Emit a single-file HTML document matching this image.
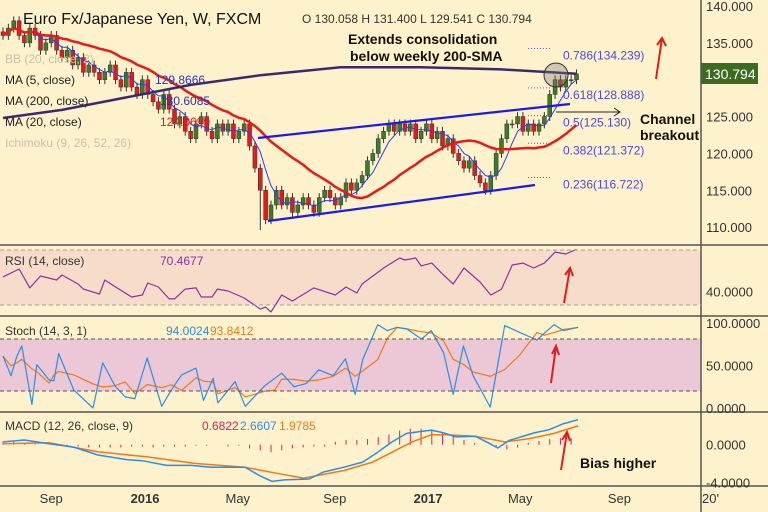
<!DOCTYPE html>
<html><head><meta charset="utf-8"><style>
html,body{margin:0;padding:0;background:#fdf2cc;}
svg{display:block;font-family:"Liberation Sans",sans-serif;}
</style></head><body>
<svg id="c" width="768" height="512" viewBox="0 0 768 512">
<rect x="0" y="0" width="768" height="512" fill="#fdf2cc"/>
<rect x="0" y="250" width="701" height="55" fill="#f6dcc9"/>
<rect x="0" y="339" width="701" height="52" fill="#ecc8d6"/>
<g id="grid"></g><g id="marks"></g>
<g stroke="#555" stroke-width="1.5">
<line x1="0" y1="245" x2="768" y2="245"/><line x1="0" y1="316" x2="768" y2="316"/><line x1="0" y1="412" x2="768" y2="412"/><line x1="0" y1="486" x2="768" y2="486"/><line x1="701" y1="0" x2="701" y2="512"/></g>
<g stroke="#a99" stroke-dasharray="4,3"><line x1="0" y1="250" x2="701" y2="250"/><line x1="0" y1="305" x2="701" y2="305"/></g>
<g stroke="#555" stroke-dasharray="4,3"><line x1="0" y1="339" x2="701" y2="339"/><line x1="0" y1="391" x2="701" y2="391"/></g>
<g id="axes" font-size="13" fill="#333"></g>
<text x="23" y="24" font-size="16" fill="#111">Euro Fx/Japanese Yen, W, FXCM</text>
<text x="302" y="23" font-size="12" fill="#333">O 130.058  H 131.400  L 129.541  C 130.794</text>
<g font-size="12" fill="#222">
<text x="5" y="63" fill="#c9c0a8">BB (20, close, 2)</text>
<text x="5" y="84">MA (5, close)</text>
<text x="155" y="84" fill="#2233dd">129.8666</text>
<text x="5" y="105">MA (200, close)</text>
<text x="160" y="105" fill="#333399">130.6085</text>
<text x="5" y="126">MA (20, close)</text>
<text x="160" y="126" fill="#e31b1b">124.0699</text>
<text x="5" y="147" fill="#c9c0a8">Ichimoku (9, 26, 52, 26)</text>
<text x="5" y="265" fill="#333">RSI (14, close)</text>
<text x="160" y="265" fill="#8833aa">70.4677</text>
<text x="5" y="335" fill="#333">Stoch (14, 3, 1)</text>
<text x="166" y="335" fill="#2a8ee8">94.0024</text><text x="210" y="335" fill="#f07a1a">93.8412</text>
<text x="5" y="430" fill="#333">MACD (12, 26, close, 9)</text>
<text x="202" y="430" fill="#e0205a">0.6822</text><text x="240" y="430" fill="#2a8ee8">2.6607</text><text x="279" y="430" fill="#f07a1a">1.9785</text>
</g>
<g font-size="14" font-weight="bold" fill="#111">
<text x="348" y="44">Extends consolidation</text>
<text x="350" y="61">below weekly 200-SMA</text>
<text x="640" y="124">Channel</text>
<text x="640" y="140">breakout</text>
<text x="580" y="468">Bias higher</text>
</g>
<g stroke="#e31b1b" stroke-width="2" fill="none">
<path d="M656,79 L662,38 M657,45 L662,38 L666,46"/>
<path d="M564,303 L570,268 M565,275 L570,268 L573,276"/>
<path d="M551,383 L556,346 M552,354 L556,346 L559,355"/>
<path d="M561,470 L567,432 M562,440 L567,432 L570,441"/>
</g>
<path d="M556,112 L620,112 M614,108 L620,112 L614,116" stroke="#222" stroke-width="1" fill="none"/>
<script>
const closes=[136,137,138,136,135,137,136,134,135,136,134,133,134,132,133,131,132,131,130,131,132,130,129,131,129,128,130,128,127,126,128,126,124,125,123,122,124,125,123,122,124,123,124,122,123,124,121,118,115,111,113,115,113,114,112,113,114,113,112,114,115,114,113,114,116,115,116,117,119,120,122,123,124,123,124,123,124,122,123,124,122,123,121,122,120,119,118,119,117,116,115,117,120,122,124,124,125,123,124,123,124,125,128,130,129,130,130,130.794];
const ma200Weeks=[0,11,23,35,48,63,78,93,107];
const ma200Vals=[124.8,125.9,127.6,129.3,130.6,131.7,131.7,131.4,130.8];
const rsiWeeks=[0,3,5,7,10,11,14,15,18,19,21,24,26,27,29,31,32,34,36,37,39,40,42,45,48,49,50,52,54,58,62,64,66,67,71,74,75,77,78,80,82,84,86,89,91,93,95,97,99,101,103,105,107];
const rsiVals=[50.4,56.2,42.4,51.1,48.2,51.8,45.3,41.6,38,48.2,43.1,35.8,37.3,46,43.1,34.4,34.4,41.6,42.4,35.8,35.8,41.6,40.2,35.1,27.1,28.5,24.9,37.3,32.9,42.4,37.3,43.1,38.7,45.3,56.9,64.2,62.7,64.2,58.4,60.5,52.5,45.3,56.9,46.7,37.3,41.6,59.1,60.5,56.9,60.5,68.5,67.1,70.5];
const stochWeeks=[0,1.5,2.6,3.5,5.4,6.3,8.6,9.5,10.4,13.2,16.8,18.6,20.9,22.8,24.6,26.9,29.6,31.4,33.3,36,37.4,39.2,40.1,43.3,45.2,48.8,50.7,52,54.3,56.6,58.9,61.6,63.9,65.7,67.1,69.9,71.7,73.5,75.3,78.1,79.9,82.2,84,85.9,87.7,90.9,93.6,96.4,99.6,101,102.8,104.6,107.3];
const stochK=[61,38,61,73,4,51,33,32,64,21,0,53,26,13,11,59,2,21,39,47,9,35,6,31,2,26,35,41,25,29,45,38,58,16,57,98,91,95,93,81,91,65,16,73,38,1,97,89,80,88,98,91,95];
const macdWeeks=[0,4,8.6,13.2,17.7,23.2,26,30.5,35.1,38.8,45.2,47.9,50.2,52.5,57.1,59.8,63.5,67.1,69.9,72.6,75.3,77.2,79.9,82.2,84.5,88.1,90.9,92.3,94.5,99.1,101.9,104.6,107.3];
const macdVals=[0.3,0.5,0.1,-0.25,-1.1,-1.6,-1.7,-2.2,-2.2,-2.4,-2.4,-3.3,-3.9,-3.75,-3.65,-2.9,-2.4,-1.85,-0.8,0.3,1.2,1.35,1.55,1.25,0.83,0.9,0.1,-0.35,0.47,1.25,1.6,2.25,2.66];
const signalWeeks=[0,8.6,17.7,26.9,36,45.2,51.6,56.1,63.5,69,72.6,76.3,79.9,82.7,88.1,93.6,98.2,102.8,107.3];
const signalVals=[0.1,0.2,-0.75,-1.3,-2,-2.4,-3.1,-3.55,-2.75,-1.85,-0.8,0.3,1.05,1.05,0.9,0.3,0.65,1.2,2.0];
const histVals=[0.3,0.3,0.2,0.1,0,-0.1,-0.2,-0.2,-0.3,-0.3,-0.3,-0.3,-0.2,-0.2,-0.3,-0.2,-0.2,-0.2,-0.1,-0.1,0,-0.2,-0.1,-0.4,-0.6,-0.8,-0.6,-0.4,-0.3,-0.2,-0.2,0.3,0.5,0.5,0.6,0.8,1.1,1.5,1.7,1.7,1.5,1.2,0.9,0.5,0.2,0,-0.3,-0.5,-0.3,0.2,0.4,0.6,0.7,0.7];
const fibLevels=[0.786,0.618,0.5,0.382,0.236];
const fibPrices=[134.239,128.888,125.130,121.372,116.722];
const priceTicks=[140,135,125,120,115,110];
const dateLabels=["Sep","2016","May","Sep","2017","May","Sep","20'"];
const dateWeeks=[9,26.5,43.8,61.9,79.3,96.5,115,132];

const NS="http://www.w3.org/2000/svg";
const marks=document.getElementById('marks'),axes=document.getElementById('axes');
function el(tag,attrs,parent){const e=document.createElementNS(NS,tag);for(const k in attrs)e.setAttribute(k,attrs[k]);(parent||marks).appendChild(e);return e;}
const X=i=>3+i*5.36;
const yP=p=>6+(140-p)*7.37;
const yR=v=>250+(70-v)*1.375;
const yS=v=>408-v*0.85;
const yM=v=>444.7-v*9.4;
function line(ws,vs,yf,col,w,name){
  const d=vs.map((v,k)=>(k?'L':'M')+X(ws[k]).toFixed(1)+','+yf(v).toFixed(1)).join(' ');
  const p=el('path',{d:d,fill:'none',stroke:col,'stroke-width':w,'stroke-linejoin':'round'});
  
  
}
histVals.forEach((v,k)=>{
  const x=X(k*2);
  const r=el('line',{x1:x,x2:x,y1:yM(0),y2:yM(v),stroke:'#e0205a','stroke-width':1});
  
  
});
closes.forEach((c,i)=>{
  const o=i?closes[i-1]:c+0.5;
  let hi=Math.max(o,c)+0.6, lo=Math.min(o,c)-0.6;
  if(i===48)lo=109.6;
  const up=c>=o, x=X(i);
  const g=el('g',{});
  
  
  el('line',{x1:x,x2:x,y1:yP(hi),y2:yP(lo),stroke:'#333','stroke-width':1},g);
  const t=yP(Math.max(o,c)),b=yP(Math.min(o,c));
  el('rect',{x:x-2,y:t,width:4,height:Math.max(1,b-t),fill:up?'#3c7d23':'#e31b1b',stroke:'#333','stroke-width':0.5},g);
});
function sma(n){return closes.map((c,i)=>{const s=closes.slice(Math.max(0,i-n+1),i+1);return s.reduce((a,b)=>a+b,0)/s.length;});}
const idx=closes.map((c,i)=>i);
line(idx,sma(5),yP,'#2b3bff',1,'ma5-line');
line(idx,sma(20),yP,'#e8191a',2.5,'ma20-line');
line(ma200Weeks,ma200Vals,yP,'#3b2a6b',2.5,'ma200-line');
const ch=el('path',{d:'M258,138 L570,104 M268,221 L535,185',stroke:'#1a1aee','stroke-width':2.2,fill:'none'});


fibPrices.forEach((p,k)=>{
  const y=yP(p);
  const l=el('line',{x1:528,x2:552,y1:y,y2:y,stroke:'#5555ee','stroke-dasharray':'1,2'});
  
  
  const t=el('text',{x:563,y:y+11,'font-size':12,fill:'#4a4ae0'});
  t.textContent=fibLevels[k]+'('+p.toFixed(3)+')';
  
  
});
const circ=el('circle',{cx:556,cy:75,r:12,fill:'rgba(120,120,120,0.35)',stroke:'#333','stroke-width':1});


line(rsiWeeks,rsiVals,yR,'#8833aa',1.2,'rsi-line');
const stochD=stochK.map((v,k)=>{const s=stochK.slice(Math.max(0,k-2),k+1);return s.reduce((a,b)=>a+b,0)/s.length;});
line(stochWeeks,stochD,yS,'#f07a1a',1.2,'stoch-d-line');
line(stochWeeks,stochK,yS,'#2a8ee8',1.2,'stoch-k-line');
line(signalWeeks,signalVals,yM,'#f07a1a',1.5,'macd-signal-line');
line(macdWeeks,macdVals,yM,'#2a8ee8',1.5,'macd-line');
priceTicks.forEach(p=>{const t=el('text',{x:706,y:yP(p)+5},axes);t.textContent=p.toFixed(3);

});
[[40,yR],[100,yS],[50,yS],[0,yS]].forEach(([v,f])=>{const t=el('text',{x:706,y:f(v)+5},axes);t.textContent=v.toFixed(4);

});
[[0,'0.0000'],[-4,'-4.0000']].forEach(([v,s])=>{const t=el('text',{x:706,y:yM(v)+5},axes);t.textContent=s;

});
dateLabels.forEach((s,k)=>{const t=el('text',{x:X(dateWeeks[k]),y:503,'text-anchor':'middle','font-weight':(s[0]==='2'&&s.length===4)?'bold':'normal'},axes);t.textContent=s;

});
const badge=el('rect',{x:701,y:63,width:57,height:21,fill:'#3d6b1f'},axes);


const bt=el('text',{x:705,y:79,fill:'#fff','font-size':14},axes);bt.textContent='130.794';
</script>
</svg>
</body></html>
